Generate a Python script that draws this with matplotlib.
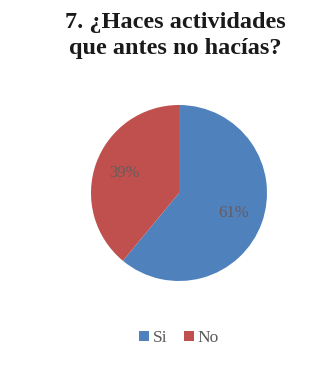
import matplotlib
matplotlib.use("Agg")
import matplotlib.pyplot as plt
from matplotlib.patches import Patch

# Datos del gráfico
categorias = ["Si", "No"]
porcentajes = [61, 39]
colores = ["#4F81BD", "#C0504D"]
titulo = "7. ¿Haces actividades\nque antes no hacías?"

W, H = 321, 369
fig = plt.figure(figsize=(W / 100, H / 100), dpi=100)

fig.text(175 / W, 1 - 12 / H, titulo, ha="center", va="top", family="Liberation Serif",
         fontweight="bold", fontsize=17.5, color="#1a1a1a", linespacing=1.3)

# eje del pastel: centro (179, 193) px, radio 88 px
cx, cy, r = 179, 193, 88
ax = fig.add_axes([(cx - r) / W, (H - cy - r) / H, 2 * r / W, 2 * r / H])
wedges, texts, autotexts = ax.pie(
    porcentajes, colors=colores, startangle=90, counterclock=False,
    autopct="%1.0f%%", pctdistance=0.66,
    wedgeprops={"linewidth": 0},
    textprops={"family": "Liberation Serif", "fontsize": 12, "color": "#6a5a5a"},
)
ax.set_xlim(-1, 1)
ax.set_ylim(-1, 1)
ax.set_aspect("equal")

handles = [Patch(facecolor=c, edgecolor="none") for c in colores]
fig.legend(handles, categorias, loc="center", bbox_to_anchor=(179 / W, 1 - 338 / H),
           ncol=2, frameon=False, prop={"family": "Liberation Serif", "size": 12.5},
           handlelength=0.55, handleheight=0.55, handletextpad=0.2, columnspacing=1.0,
           labelcolor="#595959")

fig.savefig("out.png", dpi=100)
